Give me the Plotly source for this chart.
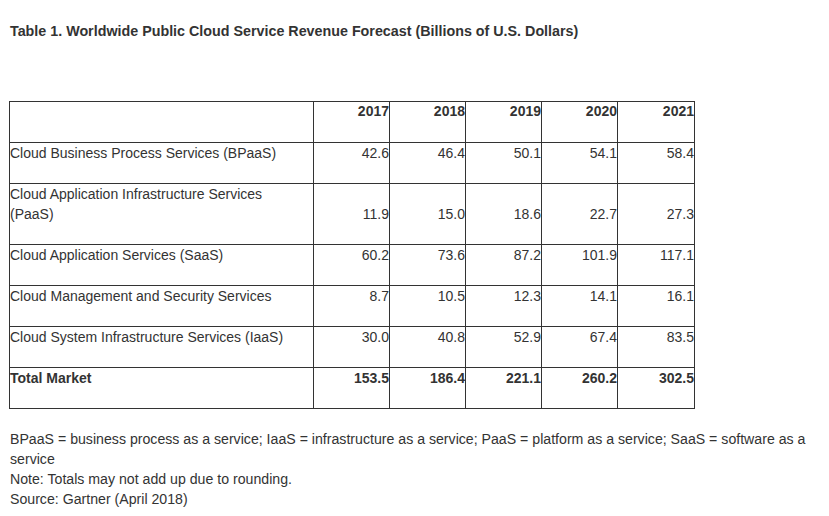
import plotly.graph_objects as go

title = "Table 1. Worldwide Public Cloud Service Revenue Forecast (Billions of U.S. Dollars)"
years = ["2017", "2018", "2019", "2020", "2021"]
segments = [
    "Cloud Business Process Services (BPaaS)",
    "Cloud Application Infrastructure Services|(PaaS)",
    "Cloud Application Services (SaaS)",
    "Cloud Management and Security Services",
    "Cloud System Infrastructure Services (IaaS)",
    "Total Market",
]
bpaas = [42.6, 46.4, 50.1, 54.1, 58.4]
paas = [11.9, 15.0, 18.6, 22.7, 27.3]
saas = [60.2, 73.6, 87.2, 101.9, 117.1]
mgmt = [8.7, 10.5, 12.3, 14.1, 16.1]
iaas = [30.0, 40.8, 52.9, 67.4, 83.5]
total = [153.5, 186.4, 221.1, 260.2, 302.5]
footnotes = [
    "BPaaS = business process as a service; IaaS = infrastructure as a service; PaaS = platform as a service; SaaS = software as a",
    "service",
    "Note: Totals may not add up due to rounding.",
    "Source: Gartner (April 2018)",
]

rows = [bpaas, paas, saas, mgmt, iaas, total]
bold_rows = [False, False, False, False, False, True]

# ---- layout / style constants (pixels) ----
W, H = 829, 516
FONT = "Liberation Sans, Arial, Helvetica, sans-serif"
TXT = "#333333"
LINE = "#333333"
X0, Y0 = 9, 101
col_widths = [304, 76, 76, 76, 76, 77]
line_h = 20
row_pad = 21
text_dy = 12  # first text line centre below the cell top

col_edges = [X0]
for w in col_widths:
    col_edges.append(col_edges[-1] + w)

n_lines = [len(s.split("|")) for s in segments]
row_heights = [line_h + row_pad] + [n * line_h + row_pad for n in n_lines]
row_edges = [Y0]
for h in row_heights:
    row_edges.append(row_edges[-1] + h)

fig = go.Figure()

def txt(xs, ys, texts, pos, size=14):
    fig.add_trace(go.Scatter(
        x=xs, y=ys, text=texts, mode="text", textposition=pos,
        textfont=dict(family=FONT, size=size, color=TXT),
        hoverinfo="skip", showlegend=False, cliponaxis=False,
    ))

# header (years, right aligned, bold)
txt([col_edges[j + 2] for j in range(len(years))],
    [row_edges[0] + text_dy - 1] * len(years),
    [f"<b>{y}</b>" for y in years], "middle left")

# row labels (top aligned, left)
lx, ly, lt = [], [], []
for i, s in enumerate(segments):
    for k, part in enumerate(s.split("|")):
        lx.append(col_edges[0] + 1)
        ly.append(row_edges[i + 1] + text_dy + k * line_h)
        lt.append(f"<b>{part}</b>" if bold_rows[i] else part)
txt(lx, ly, lt, "middle right")

# values (right aligned, bottom aligned in their cell content)
vx, vy, vt = [], [], []
for i, r in enumerate(rows):
    for j, v in enumerate(r):
        s = f"{v:.1f}"
        vx.append(col_edges[j + 2])
        vy.append(row_edges[i + 2] - row_pad - line_h + text_dy)
        vt.append(f"<b>{s}</b>" if bold_rows[i] else s)
txt(vx, vy, vt, "middle left")

# grid lines
for x in col_edges:
    fig.add_shape(type="line", x0=x + 0.5, x1=x + 0.5, y0=row_edges[0], y1=row_edges[-1] + 1,
                  line=dict(color=LINE, width=1), layer="above")
for y in row_edges:
    fig.add_shape(type="line", x0=col_edges[0], x1=col_edges[-1] + 1, y0=y + 0.5, y1=y + 0.5,
                  line=dict(color=LINE, width=1), layer="above")

# title
fig.add_annotation(
    text=f"<b>{title}</b>", x=8, y=31, xref="x", yref="y",
    xanchor="left", yanchor="middle", showarrow=False,
    font=dict(family=FONT, size=14.3, color=TXT),
)
# footnotes
for k, line in enumerate(footnotes):
    fig.add_annotation(
        text=line, x=7.5, y=439 + k * line_h, xref="x", yref="y",
        xanchor="left", yanchor="middle", align="left", showarrow=False,
        font=dict(family=FONT, size=14.15, color=TXT),
    )

fig.update_xaxes(range=[0, W], visible=False, fixedrange=True)
fig.update_yaxes(range=[H, 0], visible=False, fixedrange=True)
fig.update_layout(
    width=W, height=H, margin=dict(l=0, r=0, t=0, b=0, pad=0),
    paper_bgcolor="white", plot_bgcolor="white",
)
fig.write_html("out.html", config={"displayModeBar": False},
               post_script="document.body.style.margin='0';")
